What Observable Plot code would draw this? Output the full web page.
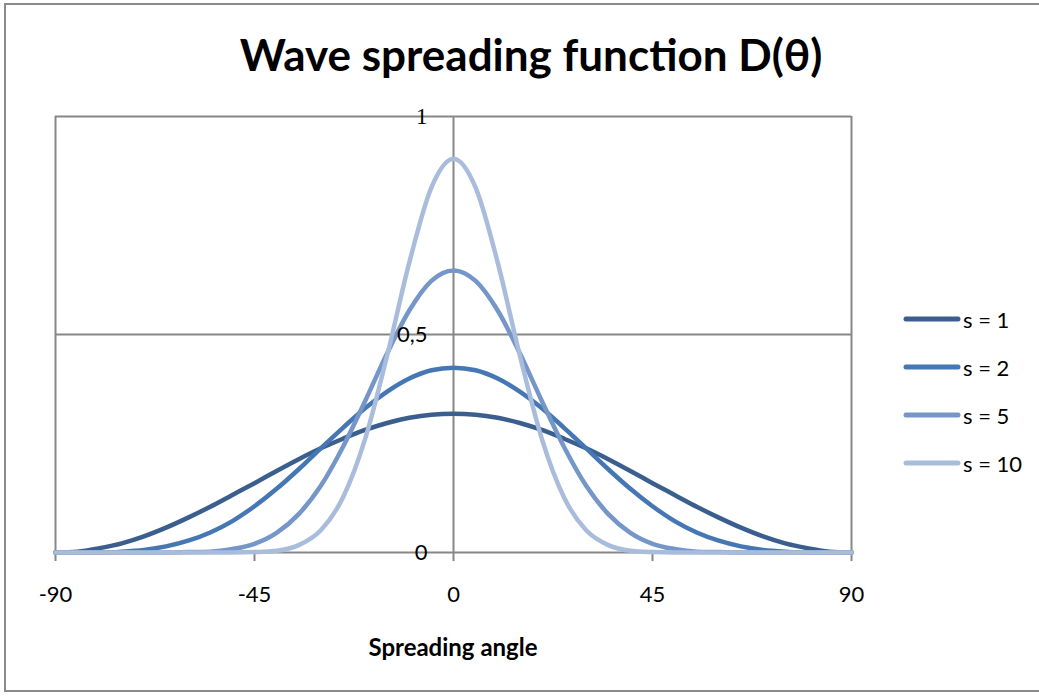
<!DOCTYPE html>
<html>
<head>
<meta charset="utf-8">
<script src="https://cdn.jsdelivr.net/npm/d3@7"></script>
<script src="https://cdn.jsdelivr.net/npm/@observablehq/plot@0.6"></script>
<style>
  html, body { margin: 0; padding: 0; background: #fff; overflow: hidden; }
  #wrap { position: relative; width: 1039px; height: 696px; overflow: hidden; font-family: Lato, "Noto Sans", sans-serif; }
  #border { position: absolute; left: 4px; top: 3px; width: 1100px; height: 689px; border: 2px solid #8a8a8a; border-right: none; box-sizing: border-box; }
  #title { position: absolute; left: 131px; width: 800px; top: 28px; text-align: center; font-weight: bold; font-size: 44px; line-height: 52px; color: #000; }
  #xlabel { position: absolute; left: 253px; width: 400px; top: 633px; text-align: center; font-weight: bold; font-size: 24px; line-height: 28px; color: #000; }
  #legend { position: absolute; left: 903px; top: 295px; }
  .item { display: flex; align-items: center; height: 48px; font-size: 22px; color: #000; }
  .item svg { margin-right: 2px; }
  #chart { position: absolute; left: 0; top: 0; }
</style>
</head>
<body>
<div id="wrap">
  <div id="border"></div>
  <div id="chart"></div>
  <div id="title">Wave spreading function D(θ)</div>
  <div id="xlabel">Spreading angle</div>
  <div id="legend"></div>
</div>
<script>
// Spreading angle in degrees
const angles = [-90,-85,-80,-75,-70,-65,-60,-55,-50,-45,-40,-35,-30,-25,-20,-15,-10,-5,0,5,10,15,20,25,30,35,40,45,50,55,60,65,70,75,80,85,90];
const seriesNames = ["s = 1", "s = 2", "s = 5", "s = 10"];
const s1 = [0,0.002,0.010,0.021,0.037,0.057,0.080,0.105,0.132,0.159,0.187,0.214,0.239,0.261,0.281,0.297,0.309,0.316,0.318,0.316,0.309,0.297,0.281,0.261,0.239,0.214,0.187,0.159,0.132,0.105,0.080,0.057,0.037,0.021,0.010,0.002,0];
const s2 = [0,0,0,0.002,0.006,0.014,0.027,0.046,0.072,0.106,0.146,0.191,0.239,0.286,0.331,0.369,0.399,0.418,0.424,0.418,0.399,0.369,0.331,0.286,0.239,0.191,0.146,0.106,0.072,0.046,0.027,0.014,0.006,0.002,0,0,0];
const s5 = [0,0,0,0,0,0,0.001,0.002,0.008,0.020,0.045,0.088,0.153,0.242,0.347,0.457,0.555,0.623,0.647,0.623,0.555,0.457,0.347,0.242,0.153,0.088,0.045,0.020,0.008,0.002,0.001,0,0,0,0,0,0];
const s10 = [0,0,0,0,0,0,0,0,0,0.001,0.004,0.017,0.051,0.126,0.260,0.452,0.665,0.837,0.903,0.837,0.665,0.452,0.260,0.126,0.051,0.017,0.004,0.001,0,0,0,0,0,0,0,0,0];
const seriesColors = ["#3a5f8f", "#4677b5", "#7596c8", "#a9bcdb"];
const xTicks = [-90, -45, 0, 45, 90];
const yTicks = [0, 0.5, 1];
const yTickLabels = ["0", "0,5", "1"];

const allSeries = [s1, s2, s5, s10];
const rows = [];
allSeries.forEach((vals, i) => {
  vals.forEach((v, j) => rows.push({series: seriesNames[i], angle: angles[j], value: v}));
});

const grid = "#878787";
const chart = Plot.plot({
  width: 1039,
  height: 696,
  marginLeft: 55,
  marginRight: 188,
  marginTop: 116,
  marginBottom: 144,
  style: {background: "transparent", fontFamily: "Lato, 'Noto Sans', sans-serif", overflow: "visible"},
  x: {domain: [-90, 90], label: null},
  y: {domain: [0, 1], label: null, axis: null},
  color: {domain: seriesNames, range: seriesColors},
  marks: [
    Plot.ruleY([0.5, 1], {stroke: grid, strokeWidth: 2}),
    Plot.ruleX([-90, 0, 90], {stroke: grid, strokeWidth: 2}),
    Plot.ruleY([0], {stroke: grid, strokeWidth: 2}),
    Plot.axisX({ticks: xTicks, tickSize: 9, tickPadding: 25, fontSize: 22, stroke: grid, strokeWidth: 2, fill: "#000", tickFormat: d => String(d), label: null}),
    Plot.line(rows, {x: "angle", y: "value", z: "series", stroke: "series", strokeWidth: 4.5, curve: "monotone-x", strokeLinecap: "round"}),
    Plot.text(yTicks.slice(0, 2), {x: 0, y: d => d, text: (d, i) => yTickLabels[i], dx: -26, textAnchor: "end", fontSize: 22, fill: "#000"}),
    Plot.text(yTicks.slice(2), {x: 0, y: d => d, text: d => yTickLabels[2], dx: -26, textAnchor: "end", fontSize: 23, fill: "#000", fontFamily: "'Liberation Serif', serif"})
  ]
});
document.getElementById("chart").appendChild(chart);

const legend = document.getElementById("legend");
seriesNames.forEach((name, i) => {
  const item = document.createElement("div");
  item.className = "item";
  item.innerHTML = `<svg width="58" height="10"><line x1="3" y1="5" x2="55" y2="5" stroke="${seriesColors[i]}" stroke-width="5" stroke-linecap="round"/></svg><span>${name}</span>`;
  legend.appendChild(item);
});
</script>
</body>
</html>
